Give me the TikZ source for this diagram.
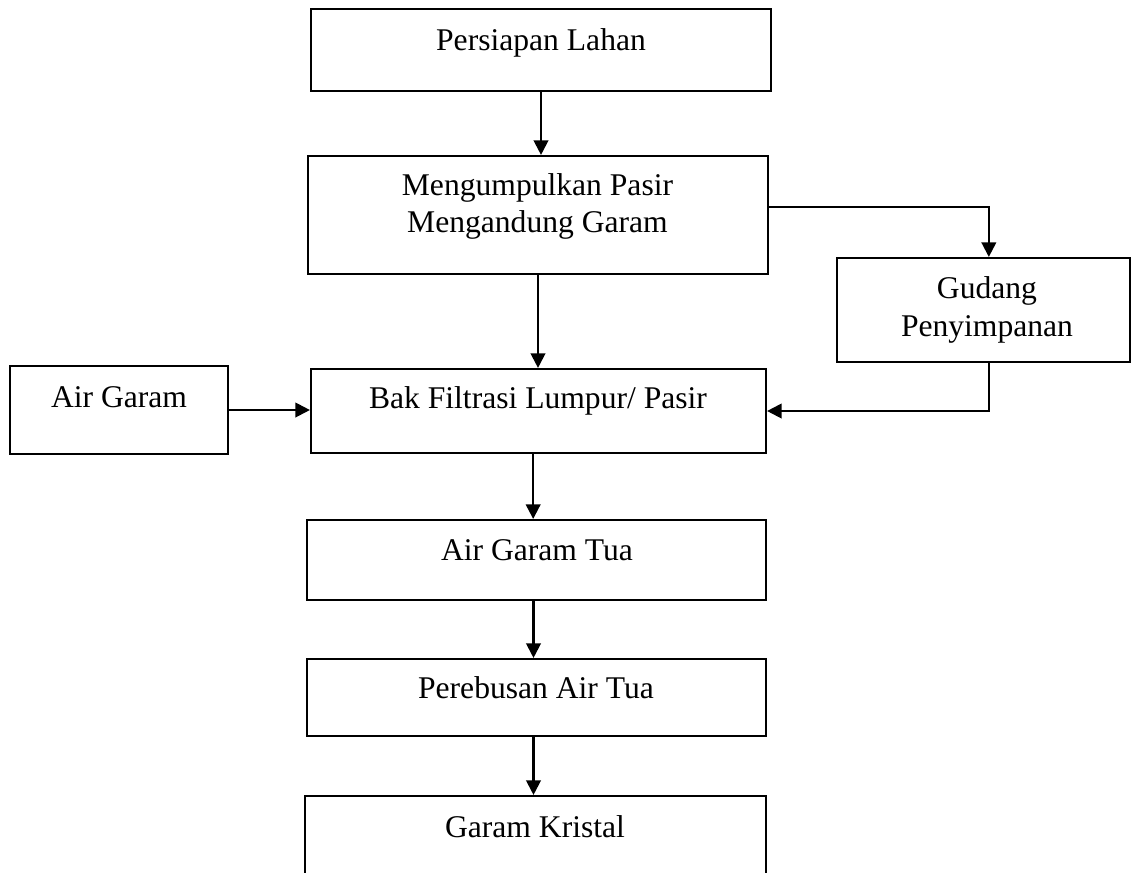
\documentclass[tikz,border=0pt]{standalone}
\usepackage{fontspec}
\setmainfont{Liberation Serif}
\usetikzlibrary{arrows.meta,calc}
\begin{document}
\begin{tikzpicture}[x=0.75pt,y=-0.75pt,
 box/.style={draw,line width=1.6pt,rectangle,inner sep=0pt},
 txt/.style={anchor=base,inner sep=0pt,font=\fontsize{23.7}{27.5}\selectfont},
 conn/.style={line width=1.6pt,-{Triangle[length=11pt,width=11pt]}},
]
\useasboundingbox (0,0) rectangle (1131,872);
\clip (0,0) rectangle (1131,872);

% boxes
\node[box,minimum width=345pt,minimum height=61.5pt] (b1) at (541,50) {};
\node[box,minimum width=345pt,minimum height=88.5pt] (b2) at (538,215) {};
\node[box,minimum width=219.75pt,minimum height=78pt] (gud) at (983.5,310) {};
\node[box,minimum width=163.5pt,minimum height=66pt] (air) at (119,410) {};
\node[box,minimum width=341.25pt,minimum height=63pt] (bak) at (538.5,411) {};
\node[box,minimum width=344.25pt,minimum height=60pt] (tua) at (536.5,560) {};
\node[box,minimum width=344.25pt,minimum height=57.75pt] (reb) at (536.5,697.5) {};
\node[box,minimum width=345.75pt,minimum height=78pt] (kri) at (535.5,848) {};

% texts
\node[txt] (t1) at (541,50) {Persiapan Lahan};
\node[txt] (t2a) at (537.5,195) {Mengumpulkan Pasir};
\node[txt] (t2b) at (537.5,232) {Mengandung Garam};
\node[txt] (t3a) at (987,298) {Gudang};
\node[txt] (t3b) at (987,336) {Penyimpanan};
\node[txt] (t4) at (119,407) {Air Garam};
\node[txt] (t5) at (538,408) {Bak Filtrasi Lumpur/ Pasir};
\node[txt] (t6) at (537,560) {Air Garam Tua};
\node[txt] (t7) at (536,698) {Perebusan Air Tua};
\node[txt] (t8) at (535,837) {Garam Kristal};

% connectors
\draw[conn] (b1.south) -- (b1.south |- b2.north);
\draw[conn] (b2.south) -- (b2.south |- bak.north);
\coordinate (c1) at ($(b2.north east)!0.43!(b2.south east)$);
\coordinate (gn) at ([xshift=4pt]gud.north);
\draw[conn] (c1) -| (gn);
\coordinate (gs) at ([xshift=4pt]gud.south);
\draw[conn] (gs) |- (bak.east);
\draw[conn] (air.east) -- (air.east -| bak.west);
\coordinate (bs) at ([xshift=-4pt]bak.south);
\draw[conn] (bs) -- (bs |- tua.north);
\coordinate (ts) at ([xshift=-2.25pt]tua.south);
\draw[conn] (ts) -- (ts |- reb.north);
\coordinate (rs) at ([xshift=-2.25pt]reb.south);
\draw[conn] (rs) -- (rs |- kri.north);
\end{tikzpicture}
\end{document}
